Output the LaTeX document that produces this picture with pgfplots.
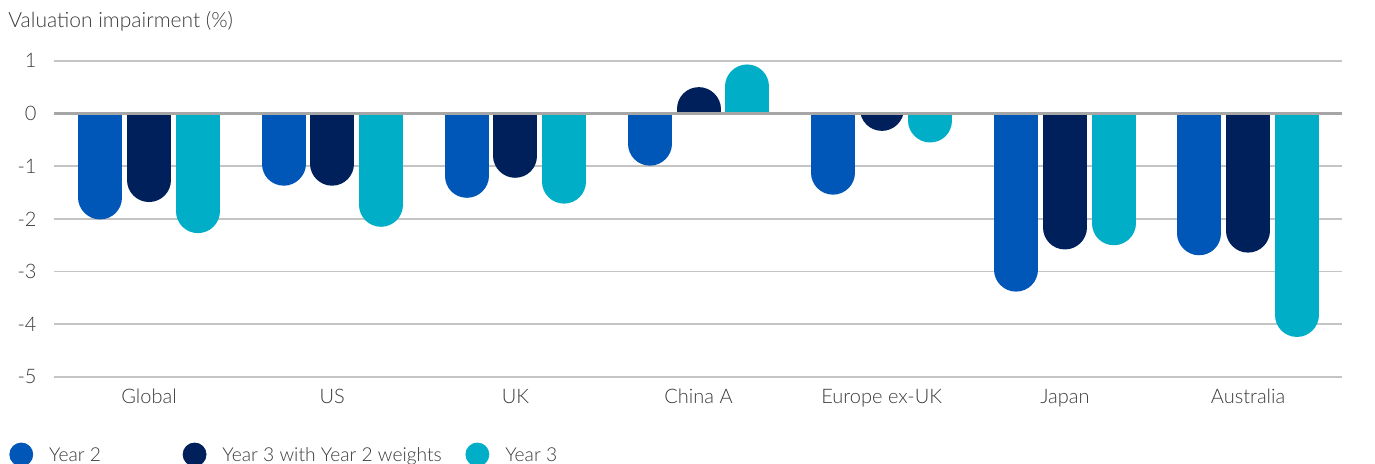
\documentclass[border=0pt]{standalone}
\usepackage{fontspec}
\setmainfont{Lato Light}
\usepackage{pgfplots}
\pgfplotsset{compat=1.18}
\usepackage{pgfplotstable}

\definecolor{ctwo}{HTML}{0057B8}
\definecolor{cthreew}{HTML}{00205B}
\definecolor{cthree}{HTML}{00AFC7}
\definecolor{gridc}{HTML}{C4C4C4}
\definecolor{zeroc}{HTML}{A6A6A6}
\definecolor{txt}{HTML}{3A3A3A}

% valuation impairment (%) per market
\pgfplotstableread{
idx y2    y3w   y3
0   -2.01 -1.68 -2.27
1   -1.37 -1.37 -2.15
2   -1.60 -1.22 -1.71
3   -0.99  0.50  0.93
4   -1.54 -0.33 -0.55
5   -3.38 -2.58 -2.50
6   -2.69 -2.64 -4.24
}\data

% half bar width in y units (11pt / 26.35pt)
\newcommand\rr{0.4175}

\pgfplotsset{
  common/.style={anchor=south west, scale only axis, width=644pt,
    xmin=-0.519, xmax=6.513},
  roundbar/.style 2 args={draw=none, mark=none,
    error bars/y dir=#2, error bars/y explicit, error bars/error mark=none,
    error bars/error bar style={draw=#1, line width=22pt, line cap=round}},
}

\begin{document}
\color{txt}
\begin{tikzpicture}
% grid, ticks, legend
\begin{axis}[common, at={(0,0)}, height=163.37pt,
  ymin=-5, ymax=1.2,
  axis line style={draw=none}, tick style={draw=none},
  ytick={-5,...,1}, xtick={0,...,6},
  xticklabels={Global,US,UK,China A,Europe ex-UK,Japan,Australia},
  ymajorgrids, major grid style={gridc, line width=0.8pt},
  /pgf/number format/assume math mode=true,
  tick label style={font=\fontsize{10}{12}\selectfont, text=txt},
  yticklabel style={anchor=east, inner sep=0pt, xshift=-8.5pt},
  xticklabel style={anchor=base, inner sep=0pt, yshift=-13.5pt},
  legend columns=3, legend cell align=left,
  legend style={draw=none, fill=none, inner sep=0pt, at={(-0.03494,-0.2372)}, anchor=west,
    font=\fontsize{9.6}{12}\selectfont, text=txt,
    nodes={inner sep=0pt, text depth=0pt},
    /tikz/every odd column/.append style={column sep=8pt}},
]
\addlegendimage{legend image code/.code={\fill[ctwo] (0pt,0pt) circle (5.75pt);}}
\addlegendentry{\makebox[66.75pt][l]{Year 2}}
\addlegendimage{legend image code/.code={\fill[cthreew] (0pt,0pt) circle (5.75pt);}}
\addlegendentry{\makebox[121.5pt][l]{Year 3 with Year 2 weights}}
\addlegendimage{legend image code/.code={\fill[cthree] (0pt,0pt) circle (5.75pt);}}
\addlegendentry{Year 3}
\end{axis}

% bars below zero, clipped at zero
\begin{axis}[common, at={(0,0)}, height=131.75pt, ymin=-5, ymax=0, hide axis]
\addplot[roundbar={ctwo}{plus}] table[x expr=\thisrow{idx}-0.266, y expr=\thisrow{y2}+\rr, y error expr=10] {\data};
\addplot[roundbar={cthreew}{plus}] table[x expr=\thisrow{idx}, y expr=\thisrow{y3w}+\rr, y error expr=10] {\data};
\addplot[roundbar={cthree}{plus}] table[x expr=\thisrow{idx}+0.266, y expr=\thisrow{y3}+\rr, y error expr=10] {\data};
\end{axis}

% bars above zero, clipped at zero
\begin{axis}[common, at={(0,131.75pt)}, height=31.62pt, ymin=0, ymax=1.2, hide axis]
\addplot[roundbar={ctwo}{minus}] table[x expr=\thisrow{idx}-0.266, y expr=\thisrow{y2}-\rr, y error expr=10] {\data};
\addplot[roundbar={cthreew}{minus}] table[x expr=\thisrow{idx}, y expr=\thisrow{y3w}-\rr, y error expr=10] {\data};
\addplot[roundbar={cthree}{minus}] table[x expr=\thisrow{idx}+0.266, y expr=\thisrow{y3}-\rr, y error expr=10] {\data};
\end{axis}

% zero line on top of the bars
\draw[zeroc, line width=1.5pt] (0pt,131.75pt) -- (644pt,131.75pt);

\node[anchor=base west, inner sep=0pt, font=\fontsize{10.5}{12}\selectfont, text=txt]
  at (-23pt,174.5pt) {Valuation impairment (\%)};

\pgfresetboundingbox
\path[use as bounding box] (-27pt,-43.5pt) rectangle (660.5pt,188.5pt);
\end{tikzpicture}
\end{document}
